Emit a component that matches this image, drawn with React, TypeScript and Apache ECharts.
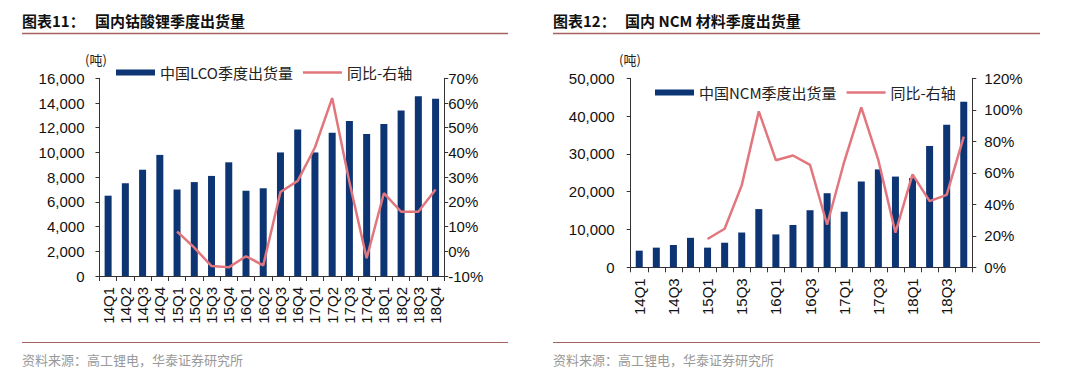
import React, { useEffect, useRef } from "react";
import * as echarts from "echarts";

const categories = [
  "14Q1", "14Q2", "14Q3", "14Q4", "15Q1", "15Q2", "15Q3", "15Q4", "16Q1", "16Q2",
  "16Q3", "16Q4", "17Q1", "17Q2", "17Q3", "17Q4", "18Q1", "18Q2", "18Q3", "18Q4",
];
const lcoShipments = [6500, 7500, 8600, 9800, 7000, 7600, 8100, 9200, 6900, 7100, 10000, 11850, 10000, 11600, 12550, 11500, 12300, 13400, 14550, 14350];
const lcoYoY = [null, null, null, null, 8, 1.5, -6, -6.5, -2, -5.7, 24, 28.5, 42, 62, 28, -2.8, 23.5, 16, 16, 25];
const ncmShipments = [4400, 5200, 5900, 7800, 5200, 6500, 9200, 15400, 8700, 11200, 15100, 19600, 14700, 22700, 25900, 24000, 23600, 32100, 37700, 43800];
const ncmYoY = [null, null, null, null, 18, 24.5, 52, 99, 68, 71, 65, 27, 67, 101.5, 68, 22, 59, 42, 46, 83];

const leftTicks = { min: 0, max: 16000, interval: 2000 };
const leftPct = { min: -10, max: 70, interval: 10 };
const rightTicks = { min: 0, max: 50000, interval: 10000 };
const rightPct = { min: 0, max: 120, interval: 20 };

const BAR = "#0d3473";
const LINE = "#e2767d";
const RULE = "#a5625e";
const AXIS = "#333";
const NUMFONT = "'Liberation Sans', Arial, sans-serif";
const CJK = "'Noto Sans CJK SC', sans-serif";
// thin horizontal stroke centred in a 39x6 box (tiny specks fix the bounding box)
const LINE_ICON = "path://M0,0H0.1V0.01H0Z M0,1.75H39V4.25H0Z M0,5.99H0.1V6H0Z";

const fmtNum = (v: number) => v.toLocaleString("en-US");

export default function App() {
  const ref = useRef<HTMLDivElement>(null);
  useEffect(() => {
    document.body.style.margin = "0";
    const chart = echarts.init(ref.current!, null, { renderer: "svg" });

    const axisLabel = { color: "#111", fontSize: 15, fontFamily: NUMFONT };
    const axisLine = { show: true, lineStyle: { color: AXIS, width: 1 } };

    const xAxisBase = (gridIndex: number, labelInterval: number, margin: number) => ({
      type: "category",
      gridIndex,
      data: categories,
      boundaryGap: true,
      axisLine,
      axisTick: { show: true, interval: 0, length: 5, lineStyle: { color: AXIS } },
      axisLabel: { ...axisLabel, rotate: 90, interval: labelInterval, margin },
    });

    const legendBase = {
      padding: 0,
      itemWidth: 39,
      itemHeight: 6,
      itemGap: 10,
      textStyle: { fontSize: 15, fontFamily: CJK, color: "#222" },
    };

    const option: any = {
      animation: false,
      backgroundColor: "#fff",
      grid: [
        { left: 99.5, top: 78.3, width: 344.7, height: 197.7 },
        { left: 630.7, top: 78.3, width: 341.6, height: 189 },
      ],
      legend: [
        {
          ...legendBase,
          left: 116,
          top: 65,
          data: [
            { name: "中国LCO季度出货量", icon: "rect" },
            { name: "同比-右轴", icon: LINE_ICON },
          ],
        },
        {
          ...legendBase,
          left: 655,
          top: 85,
          data: [
            { name: "中国NCM季度出货量", icon: "rect" },
            { name: "同比-右轴 ", icon: LINE_ICON },
          ],
        },
      ],
      xAxis: [xAxisBase(0, 0, 11), xAxisBase(1, 1, 11)],
      yAxis: [
        {
          type: "value", gridIndex: 0, position: "left", ...leftTicks,
          axisLine, axisTick: { show: true, length: 4, lineStyle: { color: AXIS } },
          splitLine: { show: false },
          axisLabel: { ...axisLabel, margin: 15, formatter: fmtNum },
        },
        {
          type: "value", gridIndex: 0, position: "right", ...leftPct,
          axisLine, axisTick: { show: true, length: 4, lineStyle: { color: AXIS } },
          splitLine: { show: false },
          axisLabel: { ...axisLabel, margin: 4, formatter: "{value}%" },
        },
        {
          type: "value", gridIndex: 1, position: "left", ...rightTicks,
          axisLine, axisTick: { show: true, length: 4, lineStyle: { color: AXIS } },
          splitLine: { show: false },
          axisLabel: { ...axisLabel, margin: 16, formatter: fmtNum },
        },
        {
          type: "value", gridIndex: 1, position: "right", ...rightPct,
          axisLine, axisTick: { show: true, length: 4, lineStyle: { color: AXIS } },
          splitLine: { show: false },
          axisLabel: { ...axisLabel, margin: 12, formatter: "{value}%" },
        },
      ],
      series: [
        {
          name: "中国LCO季度出货量", type: "bar", xAxisIndex: 0, yAxisIndex: 0,
          data: lcoShipments, barWidth: 7, itemStyle: { color: BAR },
        },
        {
          name: "同比-右轴", type: "line", xAxisIndex: 0, yAxisIndex: 1,
          data: lcoYoY, symbol: "none", lineStyle: { color: LINE, width: 2.5 },
          itemStyle: { color: LINE },
        },
        {
          name: "中国NCM季度出货量", type: "bar", xAxisIndex: 1, yAxisIndex: 2,
          data: ncmShipments, barWidth: 7, itemStyle: { color: BAR },
        },
        {
          name: "同比-右轴 ", type: "line", xAxisIndex: 1, yAxisIndex: 3,
          data: ncmYoY, symbol: "none", lineStyle: { color: LINE, width: 2.5 },
          itemStyle: { color: LINE },
        },
      ],
      graphic: [
        { type: "text", left: 22, top: 13, style: { text: "图表11：", fontSize: 15, fontWeight: "bold", fontFamily: CJK, fill: "#111" } },
        { type: "text", left: 95, top: 13, style: { text: "国内钴酸锂季度出货量", fontSize: 15, fontWeight: "bold", fontFamily: CJK, fill: "#111" } },
        { type: "text", left: 553, top: 13, style: { text: "图表12：", fontSize: 15, fontWeight: "bold", fontFamily: CJK, fill: "#111" } },
        { type: "text", left: 625, top: 13, style: { text: "国内 NCM 材料季度出货量", fontSize: 15, fontWeight: "bold", fontFamily: CJK, fill: "#111" } },
        { type: "line", shape: { x1: 22, y1: 33.5, x2: 508, y2: 33.5 }, style: { stroke: RULE, lineWidth: 1.5 } },
        { type: "line", shape: { x1: 553, y1: 33.5, x2: 1040, y2: 33.5 }, style: { stroke: RULE, lineWidth: 1.5 } },
        { type: "line", shape: { x1: 22, y1: 342.5, x2: 508, y2: 342.5 }, style: { stroke: RULE, lineWidth: 1 } },
        { type: "line", shape: { x1: 553, y1: 342.5, x2: 1040, y2: 342.5 }, style: { stroke: RULE, lineWidth: 1 } },
        { type: "text", left: 22, top: 353, style: { text: "资料来源：高工锂电，华泰证券研究所", fontSize: 13, fontFamily: CJK, fill: "#999" } },
        { type: "text", left: 553, top: 353, style: { text: "资料来源：高工锂电，华泰证券研究所", fontSize: 13, fontFamily: CJK, fill: "#999" } },
        { type: "text", left: 85, top: 53, style: { text: "(吨)", fontSize: 13, fontFamily: CJK, fill: "#222" } },
        { type: "text", left: 619, top: 53, style: { text: "(吨)", fontSize: 13, fontFamily: CJK, fill: "#222" } },
      ],
    };
    chart.setOption(option);
    return () => chart.dispose();
  }, []);
  return <div ref={ref} style={{ width: 1080, height: 386 }} />;
}
